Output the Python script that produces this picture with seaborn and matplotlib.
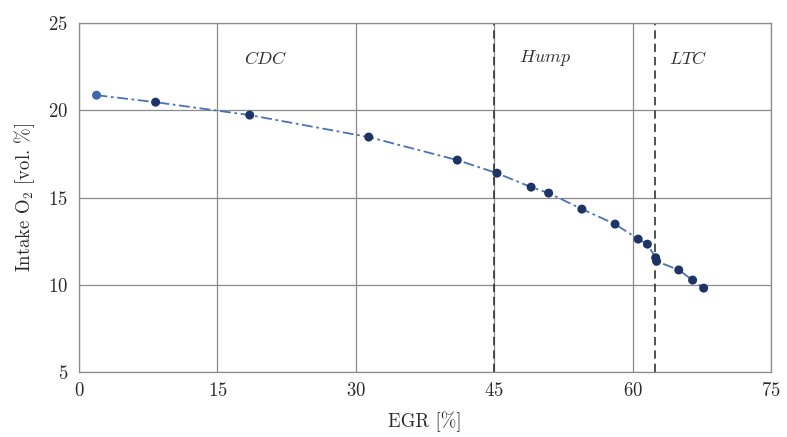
import matplotlib
matplotlib.use("Agg")
import matplotlib.pyplot as plt
import seaborn as sns
import pandas as pd

egr = [1.9, 8.3, 18.5, 31.4, 41.0, 45.3, 49.0, 50.9, 54.5, 58.1, 60.6, 61.6, 62.5, 62.6, 65.0, 66.5, 67.7]
o2 = [20.87, 20.47, 19.73, 18.47, 17.15, 16.4, 15.6, 15.26, 14.34, 13.48, 12.62, 12.33, 11.55, 11.35, 10.85, 10.27, 9.81]
point_group = ["first"] + ["rest"] * 16
x_ticks = [0, 15, 30, 45, 60, 75]
y_ticks = [5, 10, 15, 20, 25]
regimes = ["CDC", "Hump", "LTC"]
regime_x = [20.2, 50.5, 66.0]
boundaries = [45, 62.4]

df = pd.DataFrame({"EGR": egr, "O2": o2, "grp": point_group})

sns.set_theme(style="white")
plt.rcParams["font.family"] = ["cmr10", "DejaVu Serif"]
plt.rcParams["mathtext.fontset"] = "cm"
plt.rcParams["axes.formatter.use_mathtext"] = True

fig = plt.figure(figsize=(7.87, 4.37), dpi=100)
ax = fig.add_axes([0.1004, 0.1487, 0.8793, 0.7983])

sns.lineplot(data=df, x="EGR", y="O2", ax=ax, color="#4a72b8", linestyle=(0, (6, 2, 1.5, 2)),
             linewidth=1.3, sort=False, zorder=3)
sns.scatterplot(data=df, x="EGR", y="O2", hue="grp", palette={"first": "#3f67b0", "rest": "#1e3466"},
                ax=ax, s=42, linewidth=0, legend=False, zorder=4)

ax.set_xlim(0, 75)
ax.set_ylim(5, 25)
ax.set_xticks(x_ticks)
ax.set_yticks(y_ticks)
ax.grid(True, color="#8a8a8a", linewidth=0.9)
for b in boundaries:
    ax.axvline(b, color="#333333", linestyle=(0, (5, 3)), linewidth=1.2, zorder=2)
for lab, xv in zip(regimes, regime_x):
    ax.text(xv, 23.0, "$\\mathit{" + lab + "}$", ha="center", va="center", fontsize=13, color="#333333")

for s in ax.spines.values():
    s.set_color("#8a8a8a")
    s.set_linewidth(0.9)
ax.tick_params(axis="both", labelsize=13.5, colors="#2a2a2a", length=0)
ax.tick_params(axis="x", pad=7)
ax.tick_params(axis="y", pad=8)
ax.set_xlabel("EGR [%]", fontsize=13.5, color="#2a2a2a", labelpad=8)
ax.set_ylabel("Intake O$_2$ [vol. %]", fontsize=13.5, color="#2a2a2a", labelpad=8)

fig.savefig("out.png", dpi=100)
